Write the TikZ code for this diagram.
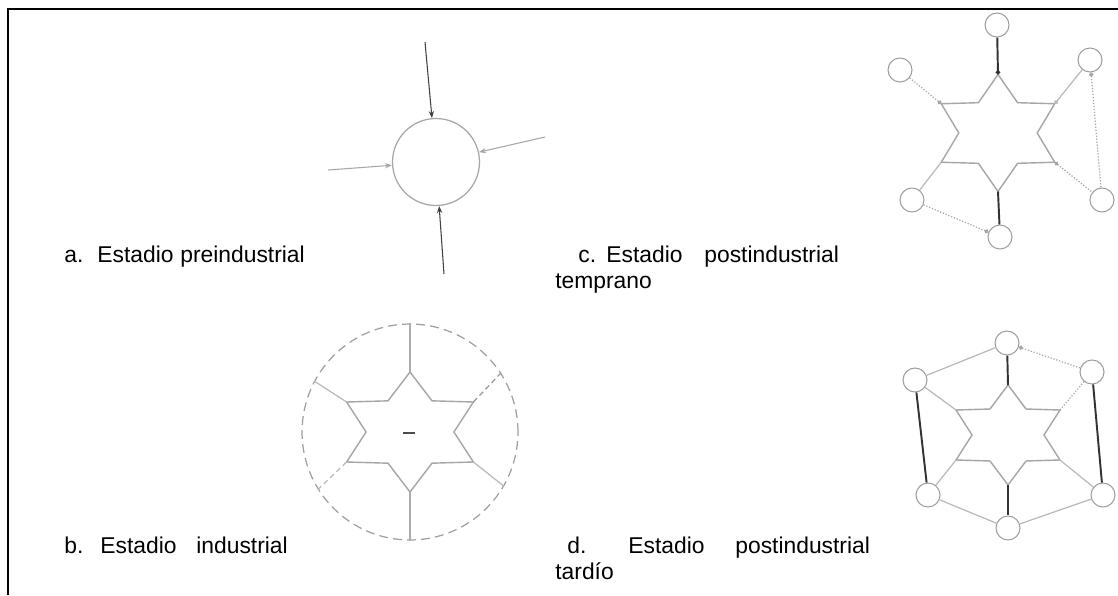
\documentclass[tikz,border=0pt]{standalone}
\usepackage{fontspec}
\setmainfont{Liberation Sans}
\usetikzlibrary{arrows.meta,calc}
\tikzset{
  lab/.style={anchor=base west, inner sep=0pt, font=\fontsize{13}{15}\selectfont},
  starline/.style={draw=gray!70, line width=0.8pt, line join=miter},
  smallc/.style={circle, draw=gray!75, line width=0.6pt, minimum size=0.48cm, inner sep=0pt},
  heavylink/.style={draw=black!80, line width=1.1pt},
  lightlink/.style={draw=gray!55, line width=0.7pt},
  dotlink/.style={draw=gray!70, line width=0.7pt, densely dotted},
  dashlink/.style={draw=gray!80, line width=0.7pt, densely dashed},
  arrowlink/.style={draw=black!75, line width=0.6pt, -{Stealth[length=4pt,width=3pt]}},
  dotend/.style={-{Circle[length=2.4pt]}},
  dotstart/.style={{Circle[length=2.4pt]}-},
}
\newcommand\hexstar[6]{%
  \foreach \k/\a in {1/90,2/30,3/-30,4/-90,5/-150,6/150}{%
    \coordinate (#1o\k) at ({#2+#6*#4*cos(\a)},{#3-#4*sin(\a)});
    \coordinate (#1i\k) at ({#2+#6*#5*cos(\a-30)},{#3-#5*sin(\a-30)});
  }%
  \draw[starline] (#1o1)--(#1i1)--(#1o2)--(#1i2)--(#1o3)--(#1i3)--(#1o4)--(#1i4)--(#1o5)--(#1i5)--(#1o6)--(#1i6)--cycle;
}
\begin{document}
\begin{tikzpicture}[x=0.02cm,y=-0.02cm]
\useasboundingbox (0,0) rectangle (1118,595);
\fill[white] (0,0) rectangle (1118,595);
% frame
\draw[line width=0.9pt] (8,595) -- (8,9) -- (1118,9);

% ---------- panel a ----------
\node[circle, draw=gray!70, line width=0.7pt, minimum width=1.74cm, minimum height=1.62cm, inner sep=0pt] (ca) at (436,162) {};
\coordinate (aN) at (425,42);
\coordinate (aW) at (328,170);
\coordinate (aE) at (545,137);
\coordinate (aS) at (444,274);
\draw[arrowlink] (aN) -- (ca);
\draw[arrowlink, draw=gray!70] (aW) -- (ca);
\draw[arrowlink, draw=gray!70] (aE) -- (ca);
\draw[arrowlink] (aS) -- (ca);

% ---------- panel b ----------
\node[circle, draw=gray!75, line width=0.7pt, dashed, dash pattern=on 5pt off 3pt, minimum size=4.32cm, inner sep=0pt] (cb) at (410,432) {};
\hexstar{b}{410}{432}{60}{36}{1.22}
\draw[lightlink, line width=1pt, draw=gray!65] (bo1) -- (cb.north);
\draw[lightlink, line width=1pt, draw=gray!65] (bo4) -- (cb.south);
\draw[lightlink] (bo6) -- (cb.152);
\draw[dashlink] (bo2) -- (cb.33);
\draw[lightlink, densely dashed] (bo5) -- (cb.212);
\draw[lightlink] (bo3) -- (cb.330);
\draw[line width=1.2pt, draw=black!70] (403,433) -- (415,433);

% ---------- panel c ----------
\hexstar{c}{998}{133}{58.5}{35}{1.12}
\node[smallc] (ct)  at (997,25) {};
\node[smallc] (ctr) at (1090,60) {};
\node[smallc] (ctl) at (900,70) {};
\node[smallc] (cbl) at (912,200) {};
\node[smallc] (cbo) at (1000,237) {};
\node[smallc] (cr)  at (1102,200) {};
\draw[heavylink, dotend] (ct) -- (co1);
\draw[dotlink, dotend] (ctl) -- (co6);
\draw[lightlink, dotend] (ctr) -- (co2);
\draw[dotlink, dotstart] (ctr) -- (cr);
\draw[dotlink, dotstart] (co3) -- (cr);
\draw[heavylink] (co4) -- (cbo);
\draw[lightlink] (co5) -- (cbl);
\draw[dotlink, dotend] (cbl) -- (cbo);

% ---------- panel d ----------
\hexstar{d}{1008}{435}{50}{30}{1.2}
\node[smallc] (dt)  at (1007,343) {};
\node[smallc] (dtr) at (1092,372) {};
\node[smallc] (dtl) at (915,380) {};
\node[smallc] (dbl) at (928,495) {};
\node[smallc] (db)  at (1008,528) {};
\node[smallc] (dbr) at (1103,495) {};
\draw[lightlink] (dtl) -- (dt);
\draw[dotlink, dotstart] (dt) -- (dtr);
\draw[heavylink] (dtr) -- (dbr);
\draw[lightlink] (dbr) -- (db);
\draw[lightlink] (db) -- (dbl);
\draw[heavylink] (dbl) -- (dtl);
\draw[heavylink] (dt) -- (do1);
\draw[heavylink] (db) -- (do4);
\draw[lightlink] (dtl) -- (do6);
\draw[dotlink] (dtr) -- (do2);
\draw[lightlink] (dbl) -- (do5);
\draw[lightlink] (dbr) -- (do3);

% ---------- labels ----------
\node[lab] (la1) at (64,262) {a.};
\node[lab] (la2) at (97,262) {Estadio};
\node[lab] (la3) at (180,262) {preindustrial};
\node[lab] (lc1) at (578,262) {c.};
\node[lab] (lc2) at (606,262) {Estadio};
\node[lab] (lc3) at (704,262) {postindustrial};
\node[lab] (lc4) at (555,288) {temprano};
\node[lab] (lb1) at (64,553) {b.};
\node[lab] (lb2) at (100,553) {Estadio};
\node[lab] (lb3) at (196,553) {industrial};
\node[lab] (ld1) at (567,553) {d.};
\node[lab] (ld2) at (628,553) {Estadio};
\node[lab] (ld3) at (735,553) {postindustrial};
\node[lab] (ld4) at (555,579) {tardío};
\end{tikzpicture}
\end{document}
